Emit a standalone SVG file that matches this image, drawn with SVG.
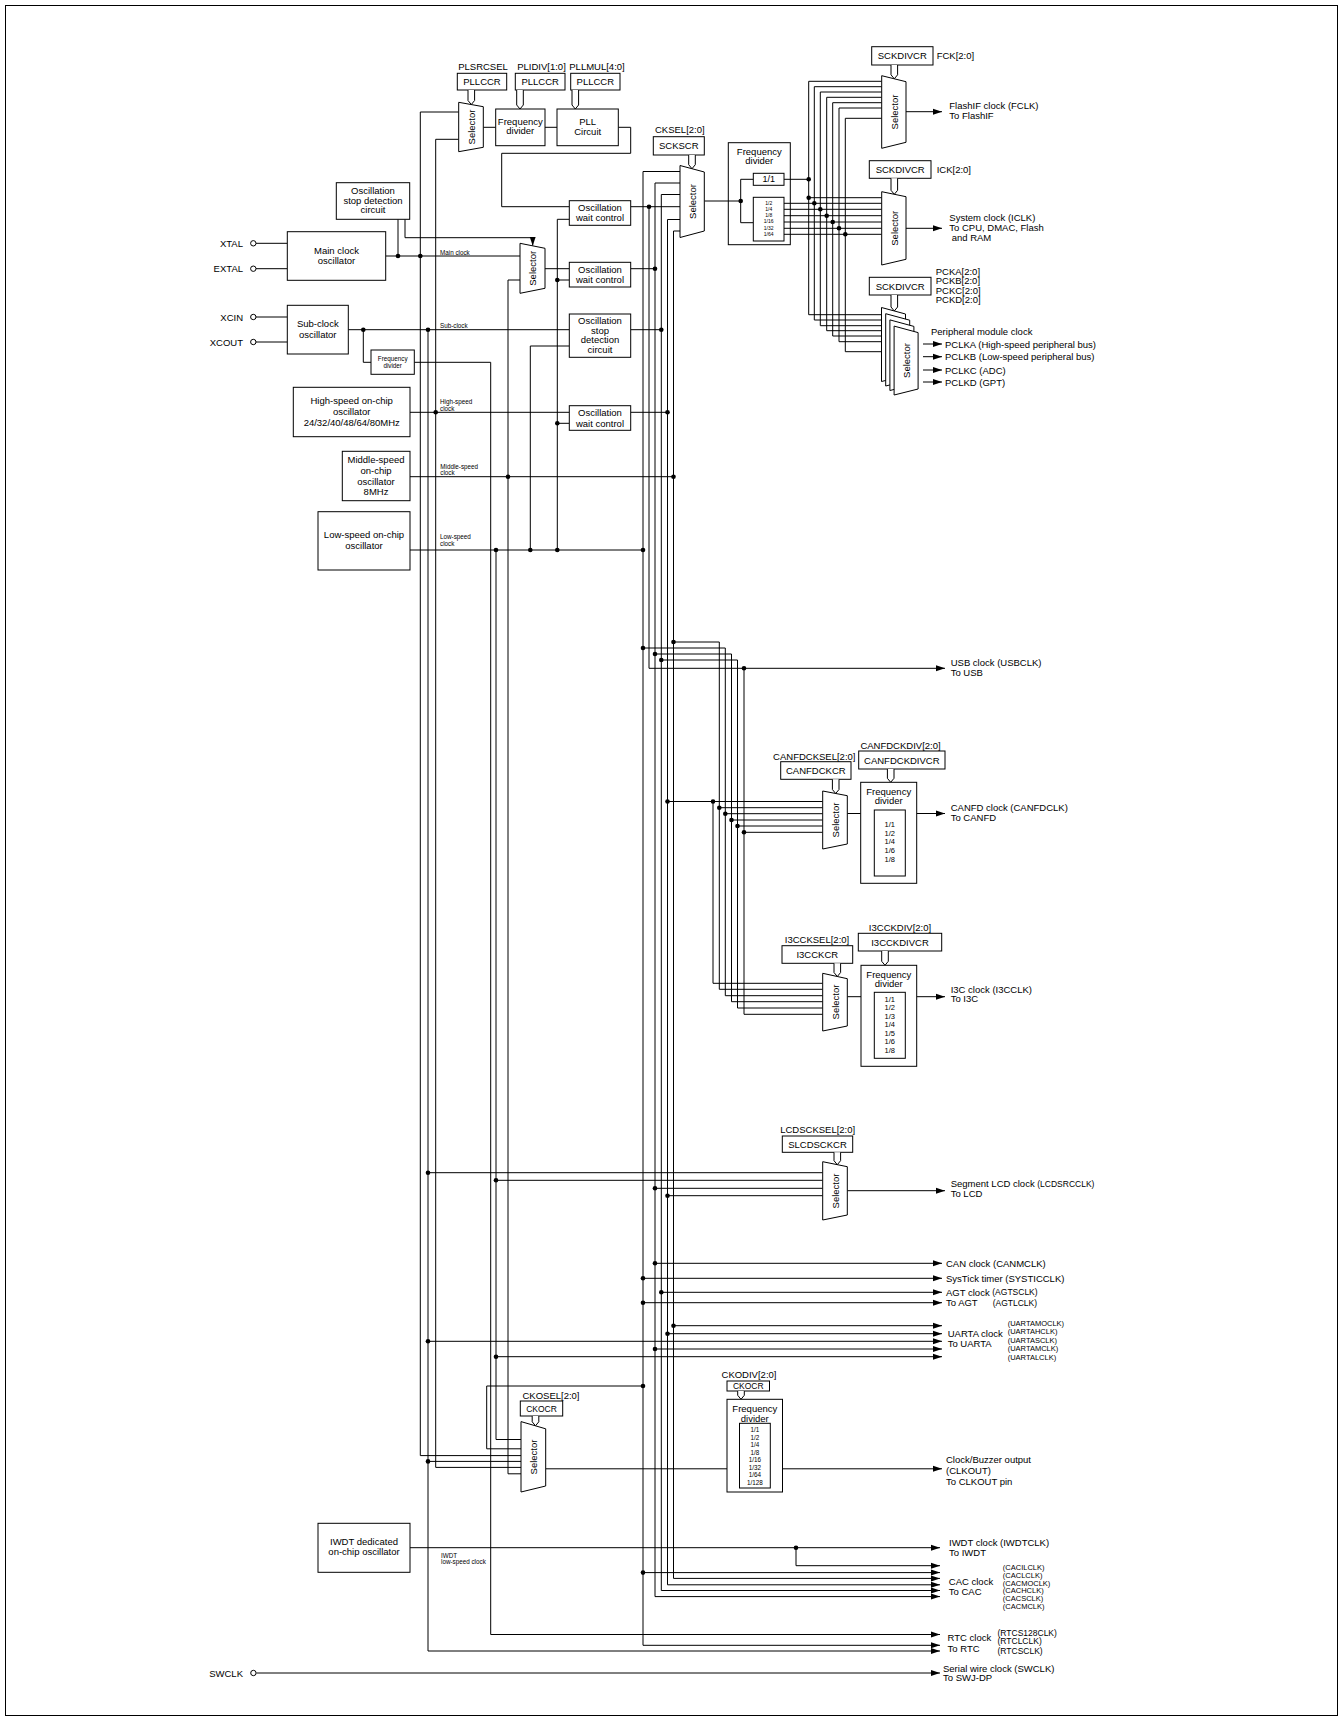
<svg xmlns="http://www.w3.org/2000/svg" width="1343" height="1721" viewBox="0 0 1343 1721">
<defs>
<marker id="ar" markerUnits="userSpaceOnUse" markerWidth="9" markerHeight="7" refX="9" refY="3.5" orient="auto"><path d="M0,0.5 L9,3.5 L0,6.5 Z" fill="#000"/></marker>
</defs>
<style>
text{font-family:"Liberation Sans",Arial,sans-serif;font-size:9.5px;fill:#000;dominant-baseline:central}
.c{text-anchor:middle}
.e{text-anchor:end}
.s{font-size:6.3px}
.xs{font-size:5px}
.m{font-size:7.5px}
.p{font-size:8.5px}
.b{fill:#fff;stroke:#000;stroke-width:1}
.n{fill:none;stroke:#000;stroke-width:1}
.l{fill:none;stroke:#000;stroke-width:1}
.a{marker-end:url(#ar)}
.tab{fill:#fff;stroke:#000;stroke-width:1}
.pin{fill:#fff;stroke:#000;stroke-width:1}
</style>
<rect x="5.5" y="5.5" width="1332" height="1710" class="n"/>

<g id="connectors">
<path class="l" d="M256,243.3H287.3M256,268.7H287.3M256,317H287.3M256,342H287.3"/>
<path class="l a" d="M256.4,1673H940"/>
<path class="l" d="M385.7,256H520M398,219.3V256"/>
<path class="l a" d="M405,219.3V237.7H532.7V245.8"/>
<path class="l" d="M458.7,112H420.3V1455.6H521"/>
<path class="l" d="M458.7,139.3H435.7V1467.4H521"/>
<path class="l" d="M483.3,127.3H495.7M545,127.3H557"/>
<path class="l" d="M618.3,127.3H630.7V153.3H501.7V206.7H569.3"/>
<path class="l" d="M545,268.7H569.3"/>
<path class="l" d="M520,280H508V1473.8H521"/>
<path class="l" d="M630.7,206.7H680"/>
<path class="l a" d="M649,206.7V668.3H945"/>
<path class="l a" d="M680,171.5H643V1645.3H940"/>
<path class="l a" d="M680,183H655V1596.6H940"/>
<path class="l a" d="M680,194.5H661.3V1590.5H940"/>
<path class="l a" d="M680,219.5H667.5V1584.8H940"/>
<path class="l a" d="M680,231H673.5V1578.4H940"/>
<path class="l" d="M630.7,268.7H655"/>
<path class="l" d="M569.3,219.3H557.3V550M557.3,280H569.3M557.3,423.3H569.3"/>
<path class="l" d="M348.3,329.7H569.3"/>
<path class="l" d="M363.3,329.7V362.3H371"/>
<path class="l a" d="M414.3,362.3H490.7V1634.5H940"/>
<path class="l a" d="M428,329.7V1651H940"/>
<path class="l" d="M428,1461.4H521"/>
<path class="l" d="M630.7,329.7H661.3"/>
<path class="l" d="M569.3,346H530.3V550"/>
<path class="l" d="M410,412.3H569.3M630.7,412.3H667.5"/>
<path class="l" d="M410,476.7H673.5"/>
<path class="l" d="M410,550H643"/>
<path class="l" d="M496,550V1439.5H521"/>
<path class="l" d="M704.3,201H740.7"/>
<path class="l" d="M784,179.3H808.7"/>
<path class="l" d="M881.7,81.3H808.7V314.7H881.5M808.7,197.7H881.7"/>
<path class="l" d="M784,203.3H881.7M881.7,86.7H814.3V320H881.5"/>
<path class="l" d="M784,209.3H881.7M881.7,92H820.3V325.7H881.5"/>
<path class="l" d="M784,215.7H881.7M881.7,97.3H826.7V330.7H881.5"/>
<path class="l" d="M784,222H881.7M881.7,102.7H832.7V336H881.5"/>
<path class="l" d="M784,228.3H881.7M881.7,108H839V341.7H881.5"/>
<path class="l" d="M784,234.3H881.7M881.7,118.3H845.3V351.7H881.5"/>
<path class="l a" d="M906,111.7H942"/>
<path class="l a" d="M906,228.3H942"/>
<path class="l a" d="M923,344H942"/>
<path class="l a" d="M923,356.7H942"/>
<path class="l a" d="M923,370H942"/>
<path class="l a" d="M923,382H942"/>
<path class="l" d="M667.5,801.5H822.7M713,801.5V983.3H822.7"/>
<path class="l" d="M673.5,642H719.3V989.3H822.7M719.3,807.7H822.7"/>
<path class="l" d="M643,648H725.3V995.7H822.7M725.3,813.7H822.7"/>
<path class="l" d="M655,654H731.5V1001.7H822.7M731.5,820H822.7"/>
<path class="l" d="M661.3,660H737.5V1008H822.7M737.5,826H822.7"/>
<path class="l" d="M744,668.3V1014.3H822.7M744,832.3H822.7"/>
<path class="l" d="M847.3,813.5H860.7"/>
<path class="l a" d="M916.7,813.5H945"/>
<path class="l" d="M847.3,996.7H861"/>
<path class="l a" d="M916.7,996.7H945"/>
<path class="l" d="M428,1172.7H822.7M496,1180.3H822.7M655,1188.3H822.7M667.5,1195.7H822.7"/>
<path class="l a" d="M847.3,1190.7H945"/>
<path class="l a" d="M655,1263.3H942"/>
<path class="l a" d="M643,1278.3H942"/>
<path class="l a" d="M661.3,1292.3H942"/>
<path class="l a" d="M643,1302.7H942"/>
<path class="l a" d="M673.5,1325.7H942"/>
<path class="l a" d="M667.5,1333.7H942"/>
<path class="l a" d="M428,1341.3H942"/>
<path class="l a" d="M655,1349H942"/>
<path class="l a" d="M496,1356.7H942"/>
<path class="l" d="M643,1386H486.7V1448.8H521"/>
<path class="l" d="M545.7,1468.8H727"/>
<path class="l a" d="M782.5,1468.8H942"/>
<path class="l a" d="M410,1547.7H940"/>
<path class="l a" d="M796,1547.7V1565.7H940"/>
<path class="l a" d="M643,1572.6H940"/>
<g fill="#000">
<circle cx="398" cy="256" r="2.3"/><circle cx="420.3" cy="256" r="2.3"/><circle cx="363.3" cy="329.7" r="2.3"/><circle cx="428" cy="329.7" r="2.3"/><circle cx="435.7" cy="412.3" r="2.3"/><circle cx="508" cy="476.7" r="2.3"/><circle cx="496" cy="550" r="2.3"/><circle cx="530.3" cy="550" r="2.3"/><circle cx="557.3" cy="550" r="2.3"/><circle cx="643" cy="550" r="2.3"/><circle cx="557.3" cy="280" r="2.3"/><circle cx="557.3" cy="423.3" r="2.3"/><circle cx="649" cy="206.7" r="2.3"/><circle cx="655" cy="268.7" r="2.3"/><circle cx="661.3" cy="329.7" r="2.3"/><circle cx="667.5" cy="412.3" r="2.3"/><circle cx="673.5" cy="476.7" r="2.3"/>
<circle cx="740.7" cy="201" r="2.3"/><circle cx="808.7" cy="179.3" r="2.3"/><circle cx="808.7" cy="197.7" r="2.3"/><circle cx="814.3" cy="203.3" r="2.3"/><circle cx="820.3" cy="209.3" r="2.3"/><circle cx="826.7" cy="215.7" r="2.3"/><circle cx="832.7" cy="222" r="2.3"/><circle cx="839" cy="228.3" r="2.3"/><circle cx="845.3" cy="234.3" r="2.3"/>
<circle cx="673.5" cy="642" r="2.3"/><circle cx="643" cy="648" r="2.3"/><circle cx="655" cy="654" r="2.3"/><circle cx="661.3" cy="660" r="2.3"/><circle cx="744" cy="668.3" r="2.3"/>
<circle cx="667.5" cy="801.5" r="2.3"/><circle cx="713" cy="801.5" r="2.3"/><circle cx="719.3" cy="807.7" r="2.3"/><circle cx="725.3" cy="813.7" r="2.3"/><circle cx="731.5" cy="820" r="2.3"/><circle cx="737.5" cy="826" r="2.3"/><circle cx="744" cy="832.3" r="2.3"/>
<circle cx="428" cy="1172.7" r="2.3"/><circle cx="496" cy="1180.3" r="2.3"/><circle cx="655" cy="1188.3" r="2.3"/><circle cx="667.5" cy="1195.7" r="2.3"/>
<circle cx="655" cy="1263.3" r="2.3"/><circle cx="643" cy="1278.3" r="2.3"/><circle cx="661.3" cy="1292.3" r="2.3"/><circle cx="643" cy="1302.7" r="2.3"/>
<circle cx="673.5" cy="1325.7" r="2.3"/><circle cx="667.5" cy="1333.7" r="2.3"/><circle cx="428" cy="1341.3" r="2.3"/><circle cx="655" cy="1349" r="2.3"/><circle cx="496" cy="1356.7" r="2.3"/>
<circle cx="643" cy="1386" r="2.3"/><circle cx="428" cy="1461.4" r="2.3"/><circle cx="796" cy="1547.7" r="2.3"/><circle cx="643" cy="1572.6" r="2.3"/>
</g>
<text class="s" x="440" y="252.5">Main clock</text>
<text class="s" x="440" y="325.5">Sub-clock</text>
<text class="s" x="440" y="401.7">High-speed</text>
<text class="s" x="440" y="408.3">clock</text>
<text class="s" x="440.3" y="466.7">Middle-speed</text>
<text class="s" x="440.3" y="472.7">clock</text>
<text class="s" x="440" y="536.7">Low-speed</text>
<text class="s" x="440" y="543.3">clock</text>
<text class="s" x="441" y="1555.7">IWDT</text>
<text class="s" x="441" y="1561.5">low-speed clock</text>
</g>

<g id="pins">
<text class="e" x="243" y="243.3">XTAL</text><circle class="pin" cx="253.3" cy="243.3" r="2.7"/>
<text class="e" x="243" y="268.7">EXTAL</text><circle class="pin" cx="253.3" cy="268.7" r="2.7"/>
<text class="e" x="243" y="317">XCIN</text><circle class="pin" cx="253.3" cy="317" r="2.7"/>
<text class="e" x="243" y="342">XCOUT</text><circle class="pin" cx="253.3" cy="342" r="2.7"/>
<text class="e" x="243" y="1673">SWCLK</text><circle class="pin" cx="253.4" cy="1673" r="2.7"/>
</g>

<g id="main-osc"><rect class="b" x="287.3" y="231.7" width="98.4" height="48.6"/><text class="c" x="336.5" y="250.3">Main clock</text><text class="c" x="336.5" y="260.3">oscillator</text></g>
<g id="sub-osc"><rect class="b" x="287.3" y="305.3" width="61" height="48.7"/><text class="c" x="317.8" y="323.3">Sub-clock</text><text class="c" x="317.8" y="334.3">oscillator</text></g>
<g id="osd1"><rect class="b" x="336.3" y="182.7" width="73.4" height="36.6"/><text class="c" x="373" y="190.7">Oscillation</text><text class="c" x="373" y="200.2">stop detection</text><text class="c" x="373" y="209.7">circuit</text></g>
<g id="pll-regs">
<rect class="b" x="457.3" y="73.3" width="49.4" height="16.7"/><text class="c" x="482" y="81.7">PLLCCR</text><text class="c" x="483" y="66">PLSRCSEL</text>
<rect class="b" x="515.3" y="73.3" width="49.7" height="16.7"/><text class="c" x="540.2" y="81.7">PLLCCR</text><text class="c" x="541.5" y="66">PLIDIV[1:0]</text>
<rect class="b" x="570.7" y="73.3" width="49.3" height="16.7"/><text class="c" x="595.3" y="81.7">PLLCCR</text><text class="c" x="597" y="66">PLLMUL[4:0]</text>
<path class="tab" d="M468,90V100.5L471.3,104.5L474.6,100.5V90"/>
<path class="tab" d="M516.7,90V105L520,109L523.3,105V90"/>
<path class="tab" d="M572,90V105L575.3,109L578.6,105V90"/>
</g>
<g id="pll-sel"><path class="b" d="M458.7,102.3L483.3,106.7V147.3L458.7,151.7Z"/><text class="c" transform="translate(471,127) rotate(-90)">Selector</text></g>
<g id="pll-div"><rect class="b" x="495.7" y="109" width="49.3" height="36.7"/><text class="c" x="520.3" y="121">Frequency</text><text class="c" x="520.3" y="130.7">divider</text></g>
<g id="pll"><rect class="b" x="557" y="109" width="61.3" height="36.7"/><text class="c" x="587.7" y="121">PLL</text><text class="c" x="587.7" y="131">Circuit</text></g>
<g id="main-sel"><path class="b" d="M520,243.3L545,248.3V288.3L520,293.3Z"/><text class="c" transform="translate(532.5,268.3) rotate(-90)">Selector</text></g>
<g id="owc1"><rect class="b" x="569.3" y="200.7" width="61.4" height="24.6"/><text class="c" x="600" y="207.7">Oscillation</text><text class="c" x="600" y="217.7">wait control</text></g>
<g id="owc2"><rect class="b" x="569.3" y="262.3" width="61.4" height="24.7"/><text class="c" x="600" y="269">Oscillation</text><text class="c" x="600" y="279">wait control</text></g>
<g id="osd2"><rect class="b" x="569.3" y="314" width="61.4" height="43.3"/><text class="c" x="600" y="320.7">Oscillation</text><text class="c" x="600" y="330.2">stop</text><text class="c" x="600" y="339.8">detection</text><text class="c" x="600" y="349.5">circuit</text></g>
<g id="owc3"><rect class="b" x="569.3" y="405.7" width="61.4" height="24.6"/><text class="c" x="600" y="412.7">Oscillation</text><text class="c" x="600" y="423">wait control</text></g>
<g id="sub-div"><rect class="b" x="371" y="350" width="43.3" height="24.3"/><text class="c s" x="392.7" y="358.8">Frequency</text><text class="c s" x="392.7" y="365">divider</text></g>
<g id="hoco"><rect class="b" x="293.3" y="387.3" width="116.7" height="49.4"/><text class="c" x="351.7" y="400.7">High-speed on-chip</text><text class="c" x="351.7" y="411.3">oscillator</text><text class="c" x="351.7" y="422">24/32/40/48/64/80MHz</text></g>
<g id="moco"><rect class="b" x="342.3" y="451.3" width="67.7" height="49.4"/><text class="c" x="376" y="459.3">Middle-speed</text><text class="c" x="376" y="470">on-chip</text><text class="c" x="376" y="481">oscillator</text><text class="c" x="376" y="491">8MHz</text></g>
<g id="loco"><rect class="b" x="318" y="511.7" width="92" height="58.3"/><text class="c" x="364" y="534.3">Low-speed on-chip</text><text class="c" x="364" y="545">oscillator</text></g>

<g id="cksel">
<text x="655" y="129.3">CKSEL[2:0]</text>
<rect class="b" x="653.3" y="136.7" width="51" height="18.3"/><text class="c" x="678.8" y="145.8">SCKSCR</text>
<path class="tab" d="M688.7,155V164.7L692,168.7L695.3,164.7V155"/>
<path class="b" d="M680,165.5L704.3,172V231L680,237.5Z"/><text class="c" transform="translate(692,201.5) rotate(-90)">Selector</text>
</g>
<g id="sys-div">
<rect class="n" x="728.3" y="142.7" width="62" height="102"/>
<text class="c" x="759.3" y="151">Frequency</text><text class="c" x="759.3" y="160.7">divider</text>
<path class="l" d="M753.3,179.3H740.7V222.7H753.3"/>
<rect class="b" x="753.3" y="173.3" width="30.7" height="12"/><text class="c" x="768.7" y="179.3" style="font-size:9px">1/1</text>
<rect class="b" x="753.3" y="197.3" width="30.7" height="43.7"/>
<text class="c xs" x="768.7" y="202.7">1/2</text><text class="c xs" x="768.7" y="208.5">1/4</text><text class="c xs" x="768.7" y="215">1/8</text><text class="c xs" x="768.7" y="221">1/16</text><text class="c xs" x="768.7" y="228.3">1/32</text><text class="c xs" x="768.7" y="234.3">1/64</text>
</g>
<g id="fclk">
<rect class="b" x="871.7" y="46.7" width="61.3" height="18.3"/><text class="c" x="902.3" y="55.8">SCKDIVCR</text><text x="936.7" y="55.7">FCK[2:0]</text>
<path class="tab" d="M891,65V74.8L894.3,78.8L897.6,74.8V65"/>
<path class="b" d="M881.7,75.7L906,81.7V142.3L881.7,148.3Z"/><text class="c" transform="translate(894,112) rotate(-90)">Selector</text>
<text x="949.3" y="105.7">FlashIF clock (FCLK)</text><text x="949.3" y="115.7">To FlashIF</text>
</g>
<g id="iclk">
<rect class="b" x="869.3" y="160.7" width="61.7" height="17.6"/><text class="c" x="900.2" y="169.5">SCKDIVCR</text><text x="936.7" y="169.3">ICK[2:0]</text>
<path class="tab" d="M891,178.3V190.3L894.3,194.3L897.6,190.3V178.3"/>
<path class="b" d="M881.7,191.7L906,196.7V259.3L881.7,265Z"/><text class="c" transform="translate(894,228.3) rotate(-90)">Selector</text>
<text x="949.3" y="217.7">System clock (ICLK)</text><text x="949.3" y="227.7">To CPU, DMAC, Flash</text><text x="951.7" y="237.7">and RAM</text>
</g>
<g id="pclk">
<rect class="b" x="869.3" y="277.3" width="61.7" height="17.7"/><text class="c" x="900.2" y="286.2">SCKDIVCR</text>
<text x="935.7" y="271">PCKA[2:0]</text><text x="935.7" y="280.5">PCKB[2:0]</text><text x="935.7" y="290">PCKC[2:0]</text><text x="935.7" y="299.5">PCKD[2:0]</text>
<path class="tab" d="M891,295V307L894.3,311L897.6,307V295"/>
<path class="b" d="M881.5,307.5L905.5,314V375.5L881.5,381.5Z"/>
<path class="b" d="M885.7,313.7L909.7,320.2V380L885.7,386Z"/>
<path class="b" d="M889.9,319.9L913.9,326.4V384.5L889.9,390.5Z"/>
<path class="b" d="M894.1,326.1L918.1,332.6V389L894.1,395Z"/>
<text class="c" transform="translate(906,360.5) rotate(-90)">Selector</text>
<text x="931" y="331.7">Peripheral module clock</text>
<text x="945" y="344">PCLKA (High-speed peripheral bus)</text>
<text x="945" y="356.7">PCLKB (Low-speed peripheral bus)</text>
<text x="945" y="370">PCLKC (ADC)</text>
<text x="945" y="382">PCLKD (GPT)</text>
</g>
<g id="usb"><text x="950.7" y="662.7">USB clock (USBCLK)</text><text x="950.7" y="672.7">To USB</text></g>
<g id="canfd">
<text class="c" x="814.3" y="756.7">CANFDCKSEL[2:0]</text>
<rect class="b" x="780.7" y="761.7" width="70.3" height="17.6"/><text class="c" x="815.8" y="770.5">CANFDCKCR</text>
<text class="c" x="900.5" y="745.7">CANFDCKDIV[2:0]</text>
<rect class="b" x="858.7" y="751" width="86.3" height="18"/><text class="c" x="901.8" y="760">CANFDCKDIVCR</text>
<path class="tab" d="M832.4,779.3V789.5L835.7,793.5L839,789.5V779.3"/>
<path class="tab" d="M887.4,769V778.3L890.7,782.3L894,778.3V769"/>
<path class="b" d="M822.7,791L847.3,795.7V844L822.7,849Z"/><text class="c" transform="translate(835,820) rotate(-90)">Selector</text>
<rect class="b" x="860.7" y="782.3" width="56" height="101"/>
<text class="c" x="888.7" y="791">Frequency</text><text class="c" x="888.7" y="800.7">divider</text>
<rect class="b" x="874.3" y="810" width="31" height="66"/>
<text class="c m" x="889.8" y="824.3">1/1</text><text class="c m" x="889.8" y="833">1/2</text><text class="c m" x="889.8" y="841.7">1/4</text><text class="c m" x="889.8" y="850.5">1/6</text><text class="c m" x="889.8" y="859">1/8</text>
<text x="950.7" y="807.7">CANFD clock (CANFDCLK)</text><text x="950.7" y="817.7">To CANFD</text>
</g>
<g id="i3c">
<text class="c" x="817" y="939.3">I3CCKSEL[2:0]</text>
<rect class="b" x="782" y="945.7" width="70.7" height="17.6"/><text class="c" x="817.3" y="954.5">I3CCKCR</text>
<text class="c" x="900" y="927.3">I3CCKDIV[2:0]</text>
<rect class="b" x="858.3" y="933.3" width="83.4" height="17.7"/><text class="c" x="900" y="942.2">I3CCKDIVCR</text>
<path class="tab" d="M834,963.3V972.5L837.3,976.5L840.6,972.5V963.3"/>
<path class="tab" d="M881.7,951V961.3L885,965.3L888.3,961.3V951"/>
<path class="b" d="M822.7,973.3L847.3,978.7V1026L822.7,1031Z"/><text class="c" transform="translate(835,1002) rotate(-90)">Selector</text>
<rect class="b" x="861" y="965.3" width="55.7" height="101"/>
<text class="c" x="888.8" y="974">Frequency</text><text class="c" x="888.8" y="983.3">divider</text>
<rect class="b" x="874.3" y="992.3" width="31" height="66"/>
<text class="c m" x="889.8" y="999">1/1</text><text class="c m" x="889.8" y="1007.3">1/2</text><text class="c m" x="889.8" y="1016">1/3</text><text class="c m" x="889.8" y="1024.7">1/4</text><text class="c m" x="889.8" y="1033.3">1/5</text><text class="c m" x="889.8" y="1041.7">1/6</text><text class="c m" x="889.8" y="1050">1/8</text>
<text x="950.7" y="989">I3C clock (I3CCLK)</text><text x="950.7" y="998.7">To I3C</text>
</g>
<g id="lcd">
<text class="c" x="817.7" y="1129.3">LCDSCKSEL[2:0]</text>
<rect class="b" x="782.3" y="1136" width="70.4" height="16.3"/><text class="c" x="817.5" y="1144.2">SLCDSCKCR</text>
<path class="tab" d="M834,1152.3V1160.7L837.3,1164.7L840.6,1160.7V1152.3"/>
<path class="b" d="M822.7,1161.7L847.3,1166.7V1215L822.7,1220Z"/><text class="c" transform="translate(835,1191) rotate(-90)">Selector</text>
<text x="950.7" y="1183.7">Segment LCD clock <tspan class="p">(LCDSRCCLK)</tspan></text><text x="950.7" y="1193.7">To LCD</text>
</g>
<g id="misc-out">
<text x="946" y="1263.3">CAN clock (CANMCLK)</text>
<text x="946" y="1278.3">SysTick timer (SYSTICCLK)</text>
<text x="946" y="1292.3">AGT clock <tspan class="p">(AGTSCLK)</tspan></text>
<text x="946" y="1302.7">To AGT</text><text class="p" x="992.7" y="1302.7">(AGTLCLK)</text>
<text x="947.7" y="1333.7">UARTA clock</text><text x="947.7" y="1343.7">To UARTA</text>
<text class="m" x="1007.7" y="1323.3">(UARTAMOCLK)</text><text class="m" x="1007.7" y="1331.5">(UARTAHCLK)</text><text class="m" x="1007.7" y="1340">(UARTASCLK)</text><text class="m" x="1007.7" y="1348.3">(UARTAMCLK)</text><text class="m" x="1007.7" y="1357.5">(UARTALCLK)</text>
</g>
<g id="cko">
<text class="c" x="551" y="1395">CKOSEL[2:0]</text>
<rect class="b" x="520.3" y="1401" width="42.4" height="15"/><text class="c p" x="541.5" y="1408.6">CKOCR</text>
<path class="tab" d="M532.2,1416V1421.8L535.5,1425.8L538.8,1421.8V1416"/>
<path class="b" d="M521,1421.6L545.7,1428.8V1486L521,1492Z"/><text class="c" transform="translate(533.3,1457) rotate(-90)">Selector</text>
<text class="c" x="749" y="1374">CKODIV[2:0]</text>
<rect class="b" x="727" y="1381" width="42.5" height="10"/><text class="c p" x="748.3" y="1386">CKOCR</text>
<path class="tab" d="M737.7,1391V1395.3L741,1399.3L744.3,1395.3V1391"/>
<rect class="b" x="727" y="1399.3" width="55.5" height="92.7"/>
<text class="c" x="754.8" y="1408.6">Frequency</text><text class="c" x="754.8" y="1418.3">divider</text>
<rect class="b" x="739.5" y="1423.3" width="30.8" height="64.7"/>
<text class="c s" x="755" y="1429.5">1/1</text><text class="c s" x="755" y="1437">1/2</text><text class="c s" x="755" y="1444.5">1/4</text><text class="c s" x="755" y="1452">1/8</text><text class="c s" x="755" y="1459.5">1/16</text><text class="c s" x="755" y="1467">1/32</text><text class="c s" x="755" y="1474.5">1/64</text><text class="c s" x="755" y="1482">1/128</text>
<text x="946" y="1459.3">Clock/Buzzer output</text><text x="946" y="1470.3">(CLKOUT)</text><text x="946" y="1481">To CLKOUT pin</text>
</g>
<g id="iwdt">
<rect class="b" x="318" y="1523.3" width="92" height="49"/><text class="c" x="364" y="1541.7">IWDT dedicated</text><text class="c" x="364" y="1551.7">on-chip oscillator</text>
<text x="949" y="1542.7">IWDT clock (IWDTCLK)</text><text x="949" y="1552.7">To IWDT</text>
</g>
<g id="cac">
<text x="948.8" y="1581.7">CAC clock</text><text x="948.8" y="1591.7">To CAC</text>
<text class="m" x="1002.8" y="1567.5">(CACILCLK)</text><text class="m" x="1002.8" y="1575.3">(CACLCLK)</text><text class="m" x="1002.8" y="1583">(CACMOCLK)</text><text class="m" x="1002.8" y="1590.8">(CACHCLK)</text><text class="m" x="1002.8" y="1598.5">(CACSCLK)</text><text class="m" x="1002.8" y="1606.3">(CACMCLK)</text>
</g>
<g id="rtc">
<text x="947.6" y="1637.3">RTC clock</text><text x="947.6" y="1648.3">To RTC</text>
<text class="p" x="997.5" y="1632.7">(RTCS128CLK)</text><text class="p" x="997.5" y="1641.3">(RTCLCLK)</text><text class="p" x="997.5" y="1650.7">(RTCSCLK)</text>
</g>
<g id="swclk"><text x="943" y="1668.3">Serial wire clock (SWCLK)</text><text x="943" y="1677.5">To SWJ-DP</text></g>
</svg>
